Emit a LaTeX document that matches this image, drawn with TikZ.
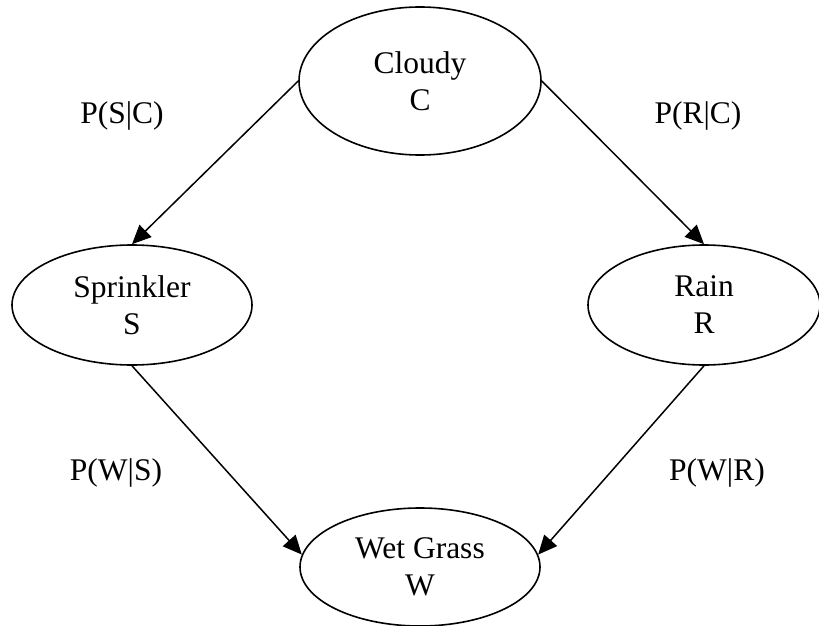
\documentclass[tikz,border=0pt]{standalone}
\usepackage{fontspec}
\setmainfont{Liberation Serif}
\usetikzlibrary{shapes.geometric,arrows.meta}
\begin{document}
\begin{tikzpicture}[x=1pt,y=-1pt,
  every node/.style={font=\fontsize{31.5}{37}\selectfont},
  varnode/.style={draw,ellipse,line width=1.6pt,inner sep=0pt,align=center},
  edge/.style={line width=1.5pt,-{Triangle[length=19pt,width=17pt]}},
  prob/.style={anchor=base,inner sep=0pt}]
\useasboundingbox (0,0) rectangle (819,626);
\node[varnode,minimum width=242pt,minimum height=148pt] (C) at (420,81) {Cloudy\\C};
\node[varnode,minimum width=240pt,minimum height=120pt] (S) at (132,305) {Sprinkler\\S};
\node[varnode,minimum width=232pt,minimum height=120pt] (R) at (704,305) {Rain\\R};
\node[varnode,minimum width=240pt,minimum height=118pt] (W) at (420,567) {Wet Grass\\W};
\draw[edge] (C.west) -- (S.north);
\draw[edge] (C.east) -- (R.north);
\draw[edge] (S.south) -- (W.174);
\draw[edge] (R.south) -- (W.6);
\node[prob] (psc) at (122,123) {P(S|C)};
\node[prob] (prc) at (698,123) {P(R|C)};
\node[prob] (pws) at (116,480) {P(W|S)};
\node[prob] (pwr) at (717,480) {P(W|R)};
\end{tikzpicture}
\end{document}
